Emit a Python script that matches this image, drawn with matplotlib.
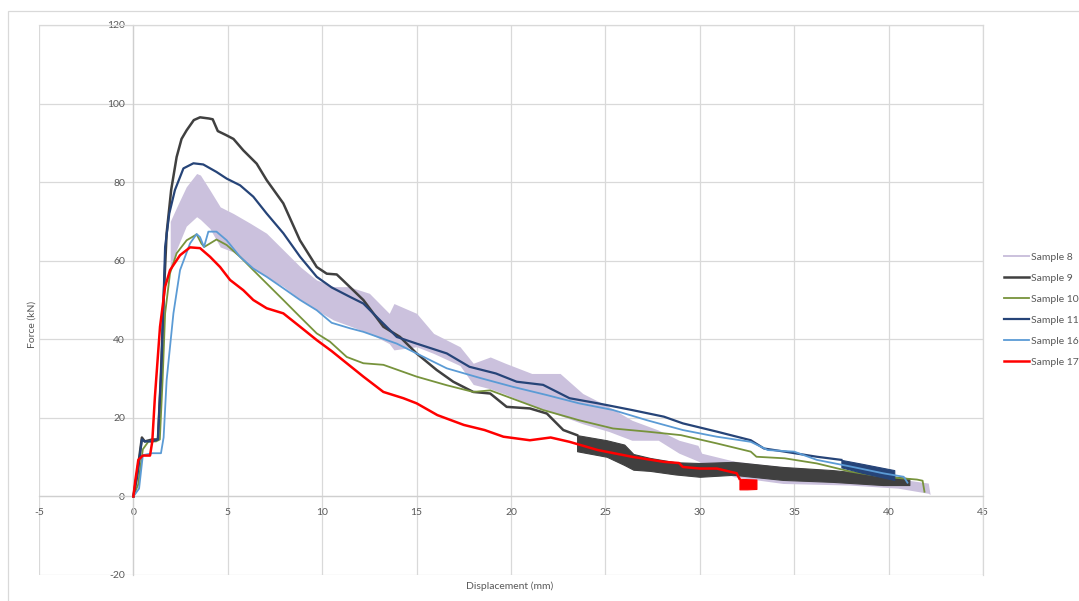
import matplotlib.pyplot as plt
from matplotlib.patches import Rectangle
from matplotlib.lines import Line2D

plt.rcParams['font.family'] = ['Lato', 'DejaVu Sans']
plt.rcParams['axes.unicode_minus'] = False

#Sample 8 - scatter band (lower/upper envelope)#
x8 = [1.95, 2.3, 2.8, 3.35, 3.55, 4.05, 4.6, 5.3, 6.2, 7.05, 7.95, 8.85, 9.7, 10.6, 11.4, 12.5,
      13.55, 13.8, 15.0, 15.9, 17.3, 18.0, 18.9, 19.7, 21.1, 22.6, 23.8, 25.2, 26.4, 27.8, 28.9,
      29.9, 30.1, 31.8, 34.4, 37.9, 40.5, 42.1, 42.2]
hi8 = [70, 73.7, 78.8, 82.2, 81.8, 78, 73.7, 72, 69.5, 67, 62.7, 58.4, 55.1, 53.4, 53.4, 51.7,
       46.6, 49.1, 46.6, 41.5, 38.1, 33.9, 35.5, 33.9, 31.3, 31.3, 26.2, 22.8, 19.4, 16.9, 14.3,
       13.0, 11.0, 9.0, 7.5, 6.0, 4.5, 3.4, 0.5]
lo8 = [58, 63, 68.8, 71.2, 70.5, 68.2, 63.5, 62.2, 58.4, 55.9, 53.4, 50.0, 47.4, 44.9, 43.5, 41.5,
       38.9, 37.3, 38.1, 36.4, 33.3, 28.5, 27.4, 26.0, 23.2, 20.6, 18.5, 16.5, 14.3, 14.3, 11.0,
       9.0, 8.5, 5.0, 3.3, 2.9, 2.1, 0.8, 0.5]

#Sample 9#
x9 = [0, 0.2, 0.45, 0.6, 1.0, 1.3, 1.45, 1.6, 1.76, 2.0, 2.29, 2.55, 2.82, 3.2, 3.53, 4.0, 4.2,
      4.47, 4.9, 5.3, 5.82, 6.53, 7.06, 7.94, 8.82, 9.71, 10.24, 10.77, 11.1, 12.18, 13.24, 14.12,
      15.0, 16.06, 16.94, 18.0, 18.9, 19.77, 21.0, 21.9, 22.77, 23.5]
y9 = [0, 6, 15, 14, 14.5, 14.5, 30, 50, 67, 78, 86.4, 91, 93.2, 95.8, 96.5, 96.2, 96,
      93, 92, 91, 88.1, 84.7, 80.5, 74.6, 65.2, 58.4, 56.7, 56.5, 55, 50, 43.2, 40.6,
      36.4, 32.2, 29.2, 26.6, 26.2, 22.8, 22.4, 21.1, 16.9, 15.6]
x9b = [23.5, 25.07, 26.0, 26.48, 27.36, 28.7, 30.0, 31.77, 34.4, 37.05, 39.7, 41.1]
lo9 = [11.5, 10.1, 8.0, 6.8, 6.5, 5.6, 5.0, 5.5, 4.2, 3.7, 2.9, 2.9]
hi9 = [15.6, 14.3, 13.2, 10.8, 9.8, 8.7, 8.5, 8.8, 7.5, 6.7, 5.4, 4.6]

#Sample 10#
x10 = [0, 0.25, 0.5, 0.8, 1.2, 1.4, 1.55, 1.68, 1.94, 2.29, 2.82, 3.35, 3.6, 3.75, 4.06, 4.4,
       4.94, 5.65, 6.35, 7.06, 7.94, 8.83, 9.71, 10.41, 11.3, 12.18, 13.24, 15.0, 16.6, 18.0,
       18.9, 20.3, 21.7, 23.6, 25.4, 27.2, 29.0, 30.9, 32.7, 33.0, 34.5, 36.2, 38.0, 39.7,
       41.5, 41.8, 41.9]
y10 = [0, 3, 12, 14, 14, 14.5, 30, 46.6, 56.8, 61.9, 65.2, 66.7, 64.4, 63.5, 64.4, 65.4,
       64, 61, 57.6, 54.2, 50, 45.7, 41.5, 39.4, 35.5, 33.9, 33.5, 30.5, 28.3, 26.6,
       27.0, 24.5, 22.0, 19.4, 17.3, 16.5, 15.6, 13.5, 11.4, 10.1, 9.7, 8.4, 6.3, 5.0,
       4.3, 4.0, 1.2]

#Sample 11#
x11 = [0, 0.2, 0.45, 0.6, 1.0, 1.3, 1.5, 1.68, 1.9, 2.2, 2.65, 3.18, 3.7, 4.4, 4.94, 5.65,
       6.35, 7.06, 7.94, 8.83, 9.71, 10.5, 11.47, 12.18, 13.24, 13.95, 15.0, 16.6, 17.8, 19.2,
       20.3, 21.7, 23.1, 24.6, 26.4, 28.1, 29.1, 30.9, 32.7, 33.4, 34.5, 36.2, 37.5]
y11 = [0, 5, 14.5, 14, 14, 14.5, 35, 63.5, 72, 78, 83.5, 84.8, 84.5, 82.6, 80.9, 79.2,
       76.3, 72.0, 67, 61, 55.9, 53.2, 50.8, 49.1, 44, 40.6, 38.9, 36.4, 33.0, 31.3,
       29.2, 28.4, 25.0, 23.7, 22.0, 20.3, 18.6, 16.5, 14.3, 12.2, 11.4, 10.1, 9.3]
x11b = [37.5, 38.6, 40.3]
lo11 = [7.4, 6.0, 4.2]
hi11 = [9.3, 8.3, 6.7]

#Sample 16#
x16 = [0, 0.3, 0.5, 1.0, 1.46, 1.6, 1.76, 2.12, 2.47, 3.0, 3.35, 3.53, 3.74, 3.97, 4.4, 4.94,
       5.65, 6.35, 7.06, 7.94, 8.83, 9.71, 10.5, 11.47, 12.18, 13.95, 15.0, 16.6, 18.4, 20.1,
       21.9, 23.6, 25.4, 27.2, 29.1, 30.9, 32.7, 33.6, 35.0, 36.2, 38.0, 39.7, 40.8, 41.0]
y16 = [0, 2, 10.5, 11, 11, 15, 29.6, 46.6, 57.6, 64.4, 66.8, 66, 63.5, 67.4, 67.4, 65.2,
       61, 58.0, 55.9, 53, 50, 47.4, 44.2, 42.8, 41.9, 38.9, 36.4, 32.6, 30.1, 27.9,
       25.8, 23.7, 22.0, 19.4, 16.9, 15.2, 13.9, 11.8, 11.4, 9.3, 7.6, 5.9, 5.0, 3.5]

#Sample 17#
x17 = [0, 0.1, 0.26, 0.5, 0.88, 1.0, 1.14, 1.41, 1.68, 1.94, 2.47, 3.0, 3.53, 4.06, 4.59, 5.12,
       5.82, 6.35, 7.06, 7.94, 8.83, 9.71, 10.5, 11.3, 12.18, 13.24, 14.3, 15.0, 16.1, 17.5,
       18.6, 19.6, 21.0, 22.1, 23.1, 24.6, 26.4, 28.1, 28.9, 29.1, 30.0, 30.9, 31.95, 32.1]
y17 = [0, 4, 9.3, 10.4, 10.4, 14, 25.4, 43.2, 53.4, 57.6, 61.4, 63.4, 63.2, 61, 58.4, 55.1,
       52.5, 50, 47.9, 46.6, 43.2, 39.8, 37.0, 33.9, 30.5, 26.6, 25.0, 23.7, 20.7, 18.2,
       16.9, 15.2, 14.3, 15.0, 13.9, 11.8, 10.1, 8.8, 8.5, 7.5, 7.1, 7.1, 5.9, 4.5]
x17b = [32.1, 32.5, 33.0]
lo17 = [1.8, 1.8, 1.9]
hi17 = [4.5, 4.4, 4.3]

names = ['Sample 8', 'Sample 9', 'Sample 10', 'Sample 11', 'Sample 16', 'Sample 17']
colors = ['#cbc1dd', '#404040', '#77933c', '#264478', '#5b9bd5', '#ff0000']
widths = [1.4, 1.8, 1.3, 1.6, 1.3, 1.8]

fig = plt.figure(figsize=(10.79, 6.01), dpi=100)
ax = fig.add_axes([39/1079, 1-575/601, (983-39)/1079, (575-25)/601])

grid = '#d9d9d9'
txt = '#595959'

ax.fill_between(x8, lo8, hi8, color=colors[0], lw=0, zorder=2)
ax.plot(x9, y9, color=colors[1], lw=widths[1], zorder=3)
ax.fill_between(x9b, lo9, hi9, color=colors[1], lw=0.8, edgecolor=colors[1], zorder=3)
ax.plot(x10, y10, color=colors[2], lw=widths[2], zorder=4)
ax.plot(x11, y11, color=colors[3], lw=widths[3], zorder=5)
ax.fill_between(x11b, lo11, hi11, color=colors[3], lw=0.8, edgecolor=colors[3], zorder=5)
ax.plot(x16, y16, color=colors[4], lw=widths[4], zorder=6)
ax.plot(x17, y17, color=colors[5], lw=widths[5], zorder=7)
ax.fill_between(x17b, lo17, hi17, color=colors[5], lw=0.8, edgecolor=colors[5], zorder=7)

ax.set_xlim(-5, 45)
ax.set_ylim(-20, 120)
ax.set_xticks(range(-5, 46, 5))
ax.set_yticks(range(-20, 121, 20))
ax.grid(True, color=grid, lw=0.9, zorder=0)
ax.set_axisbelow(True)

#Axes cross at the origin#
ax.spines['left'].set_position(('data', 0))
ax.spines['bottom'].set_position(('data', 0))
for s in ax.spines.values():
    s.set_color(grid)
    s.set_linewidth(0.9)
ax.spines['left'].set_color('#cfcfcf')
ax.spines['bottom'].set_color('#cfcfcf')
ax.tick_params(length=0, labelsize=7.5, labelcolor=txt)
ax.tick_params(axis='x', pad=8)
ax.tick_params(axis='y', pad=6)

fig.text(32/1079, 1-324/601, 'Force (kN)', rotation=90, ha='center', va='center',
         fontsize=7.5, color=txt)
fig.text(510/1079, 1-586/601, 'Displacement (mm)', ha='center', va='center',
         fontsize=7.5, color=txt)

handles = [Line2D([], [], color=c, lw=w) for c, w in zip(colors, widths)]
fig.legend(handles, names, loc='center left', bbox_to_anchor=(1004/1079, 1-309.5/601),
           frameon=False, fontsize=7.5, labelcolor=txt, handlelength=2.4,
           handletextpad=0.15, labelspacing=1.12, borderpad=0, borderaxespad=0)

#Chart area border#
fig.patches.append(Rectangle((8/1079, -0.1), 1.2, 1.1-11/601, transform=fig.transFigure,
                             fill=False, edgecolor=grid, lw=0.9))

fig.savefig('out.png', dpi=100)
